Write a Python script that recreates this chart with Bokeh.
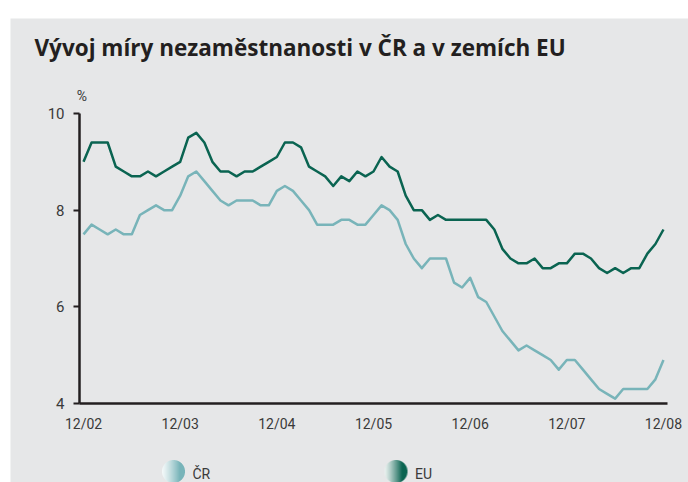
import numpy as np
from bokeh.plotting import figure
from bokeh.models import Range1d, FixedTicker, Label, LinearAxis, ColumnDataSource
from bokeh.core.properties import value
from bokeh.embed import file_html
from bokeh.resources import INLINE

# ---------------- data ----------------
title_text = "Vývoj míry nezaměstnanosti v ČR a v zemích EU"
tick_labels = ["12/02", "12/03", "12/04", "12/05", "12/06", "12/07", "12/08"]
series_names = ["ČR", "EU"]
y_ticks = [4, 6, 8, 10]

cr = [7.5, 7.7, 7.6, 7.5, 7.6, 7.5, 7.5, 7.9, 8.0, 8.1, 8.0, 8.0, 8.3, 8.7, 8.8, 8.6, 8.4, 8.2, 8.1, 8.2, 8.2, 8.2, 8.1, 8.1, 8.4,
      8.5, 8.4, 8.2, 8.0, 7.7, 7.7, 7.7, 7.8, 7.8, 7.7, 7.7, 7.9, 8.1, 8.0, 7.8, 7.3, 7.0, 6.8, 7.0, 7.0, 7.0, 6.5, 6.4, 6.6, 6.2, 6.1, 5.8,
      5.5, 5.3, 5.1, 5.2, 5.1, 5.0, 4.9, 4.7, 4.9, 4.9, 4.7, 4.5, 4.3, 4.2, 4.1, 4.3, 4.3, 4.3, 4.3, 4.5, 4.9]
eu = [9.0, 9.4, 9.4, 9.4, 8.9, 8.8, 8.7, 8.7, 8.8, 8.7, 8.8, 8.9, 9.0, 9.5, 9.6, 9.4, 9.0, 8.8, 8.8, 8.7, 8.8, 8.8, 8.9, 9.0, 9.1,
      9.4, 9.4, 9.3, 8.9, 8.8, 8.7, 8.5, 8.7, 8.6, 8.8, 8.7, 8.8, 9.1, 8.9, 8.8, 8.3, 8.0, 8.0, 7.8, 7.9, 7.8, 7.8, 7.8, 7.8, 7.8, 7.8, 7.6,
      7.2, 7.0, 6.9, 6.9, 7.0, 6.8, 6.8, 6.9, 6.9, 7.1, 7.1, 7.0, 6.8, 6.7, 6.8, 6.7, 6.8, 6.8, 7.1, 7.3, 7.6]
months = list(range(len(cr)))
tick_pos = [i * 12 for i in range(len(tick_labels))]

# ---------------- layout geometry (figure pixels) ----------------
W, H = 688, 482
FRAME_L, FRAME_R, FRAME_T, FRAME_B = 10, W, 18, H
AX_L, AX_R, AX_T, AX_B = 79, 667, 113, 403
X_LO, X_HI = -0.5, len(cr) - 0.5
Y_LO, Y_HI = y_ticks[0], y_ticks[-1]
ppx = (AX_R - AX_L) / (X_HI - X_LO)
ppy = (AX_B - AX_T) / (Y_HI - Y_LO)


def px2x(px):
    return X_LO + (px - AX_L) / ppx


def px2y(py):
    return Y_LO - (py - AX_B) / ppy


# ---------------- style ----------------
BG = "#e6e7e8"
DARK = "#231f20"
TXT = "#3a3a3a"
CR_COL = "#78b4b9"
EU_COL = "#0a6451"
NARROW = "Roboto"

p = figure(width=W, height=H,
           x_range=Range1d(px2x(FRAME_L), px2x(FRAME_R)),
           y_range=Range1d(px2y(FRAME_B), px2y(FRAME_T)),
           output_backend="svg", toolbar_location=None,
           x_axis_location=None, y_axis_location=None,
           min_border_left=FRAME_L, min_border_right=W - FRAME_R,
           min_border_top=FRAME_T, min_border_bottom=H - FRAME_B)
p.background_fill_color = BG
p.border_fill_color = "white"
p.outline_line_color = None
p.grid.visible = False

src = ColumnDataSource(dict(x=months, cr=cr, eu=eu))
p.line("x", "cr", source=src, line_color=CR_COL, line_width=2.5, line_join="round")
p.line("x", "eu", source=src, line_color=EU_COL, line_width=2.5, line_join="round")

xa = LinearAxis(fixed_location=Y_LO, bounds=(X_LO, X_HI))
xa.ticker = FixedTicker(ticks=tick_pos)
xa.major_label_overrides = {t: l for t, l in zip(tick_pos, tick_labels)}
xa.major_tick_out = 0
xa.major_tick_in = 0
xa.minor_tick_out = 0
xa.minor_tick_in = 0
xa.axis_line_color = DARK
xa.axis_line_width = 2.5
xa.major_label_standoff = 12
xa.major_label_text_font = NARROW
xa.major_label_text_font_size = "14px"
xa.major_label_text_color = TXT
p.add_layout(xa, "below")

ya = LinearAxis(fixed_location=X_LO, bounds=(Y_LO, Y_HI))
ya.ticker = FixedTicker(ticks=y_ticks)
ya.major_tick_out = 6
ya.major_tick_in = 0
ya.minor_tick_out = 0
ya.minor_tick_in = 0
ya.major_tick_line_color = DARK
ya.major_tick_line_width = 2
ya.axis_line_color = DARK
ya.axis_line_width = 2.5
ya.major_label_standoff = 9
ya.major_label_text_font = NARROW
ya.major_label_text_font_size = "15px"
ya.major_label_text_color = TXT
p.add_layout(ya, "left")

p.add_layout(Label(x=px2x(34), y=px2y(47), text=title_text,
                   text_font="Open Sans", text_font_style="bold", text_font_size="22.5px",
                   text_color=DARK, text_baseline="alphabetic", text_align="left"))
p.add_layout(Label(x=px2x(81.5), y=px2y(103), text="%",
                   text_font=NARROW, text_font_size="14px",
                   text_color=TXT, text_baseline="bottom", text_align="center"))


# ---------------- legend ----------------
def grad_disc(hex_col, n=23, ss=4):
    r0, g0, b0 = int(hex_col[1:3], 16), int(hex_col[3:5], 16), int(hex_col[5:7], 16)
    img = np.zeros((n, n), dtype=np.uint32)
    view = img.view(dtype=np.uint8).reshape((n, n, 4))
    c = n / 2.0
    for j in range(n):
        for i in range(n):
            cov = 0
            for a in range(ss):
                for b in range(ss):
                    xx = i + (a + 0.5) / ss - c
                    yy = j + (b + 0.5) / ss - c
                    if xx * xx + yy * yy <= c * c:
                        cov += 1
            t = (i + 0.5) / n
            f = min(1.0, 0.08 + 1.25 * t ** 1.2)
            view[j, i, 0] = int(255 * (1 - f) + r0 * f)
            view[j, i, 1] = int(255 * (1 - f) + g0 * f)
            view[j, i, 2] = int(255 * (1 - f) + b0 * f)
            view[j, i, 3] = int(255 * cov / (ss * ss))
    return img


D = 23
legend_px = [173, 395.5]
legend_py = 471
legend_cols = [CR_COL, EU_COL]
for cx, col in zip(legend_px, legend_cols):
    p.image_rgba(image=[grad_disc(col, D)], x=px2x(cx - D / 2), y=px2y(legend_py + D / 2),
                 dw=D / ppx, dh=D / ppy)
p.text(x=[px2x(cx + 19) for cx in legend_px], y=[px2y(legend_py + 2)] * 2, text=series_names,
       text_font=value(NARROW), text_font_size="14px", text_color=TXT,
       text_baseline="middle", text_align="left")

open("out.html", "w").write(file_html(p, INLINE))
